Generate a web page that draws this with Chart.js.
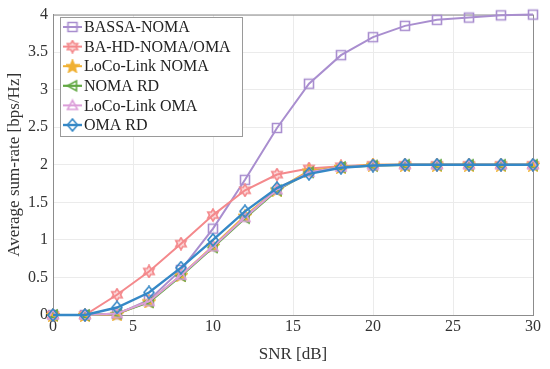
<!DOCTYPE html>
<html>
<head>
<meta charset="utf-8">
<script src="https://cdn.jsdelivr.net/npm/chart.js@4/dist/chart.umd.min.js"></script>
<style>
  body { margin: 0; background: #fff; }
  #wrap { width: 550px; height: 369px; }
</style>
</head>
<body>
<div id="wrap"><canvas id="rateChart" width="550" height="369"></canvas></div>
<script>
  // SNR points and sum-rate curves
  const snr = [0, 2, 4, 6, 8, 10, 12, 14, 16, 18, 20, 22, 24, 26, 28, 30];
  const bassaNoma = [0, 0, 0.01, 0.2, 0.6, 1.15, 1.8, 2.49, 3.08, 3.46, 3.7, 3.85, 3.93, 3.96, 3.99, 4.0];
  const baHdNomaOma = [0, 0, 0.27, 0.58, 0.95, 1.33, 1.66, 1.87, 1.95, 1.98, 2.0, 2.0, 2.0, 2.0, 2.0, 2.0];
  const locoNoma = [0, 0, 0.01, 0.18, 0.53, 0.92, 1.32, 1.67, 1.92, 1.97, 2.0, 2.0, 2.0, 2.0, 2.0, 2.0];
  const nomaRd = [0, 0, 0.02, 0.17, 0.52, 0.9, 1.29, 1.66, 1.9, 1.97, 1.99, 2.0, 2.0, 2.0, 2.0, 2.0];
  const locoOma = [0, 0, 0.02, 0.18, 0.53, 0.91, 1.3, 1.67, 1.9, 1.97, 1.99, 2.0, 2.0, 2.0, 2.0, 2.0];
  const omaRd = [0, 0, 0.1, 0.3, 0.63, 1.0, 1.38, 1.69, 1.88, 1.96, 1.99, 2.0, 2.0, 2.0, 2.0, 2.0];
  const yTicks = [0, 0.5, 1, 1.5, 2, 2.5, 3, 3.5, 4];

  const FONT = "'Liberation Serif', 'DejaVu Serif', serif";

  // draws small marker images so we can use MATLAB-like shapes
  function makeMarker(kind, color) {
    const c = document.createElement('canvas');
    c.width = 14; c.height = 14;
    const g = c.getContext('2d');
    const cx = 7, cy = 7;
    g.strokeStyle = color;
    g.fillStyle = color;
    g.lineWidth = 1.6;
    g.lineJoin = 'miter';
    g.beginPath();
    if (kind === 'square') {
      g.rect(cx - 4.5, cy - 4.5, 9, 9);
      g.stroke();
    } else if (kind === 'hexagram') {
      const r1 = 6, r2 = 3.5;
      for (let i = 0; i < 12; i++) {
        const r = i % 2 === 0 ? r1 : r2;
        const a = -Math.PI / 2 + i * Math.PI / 6;
        const px = cx + r * Math.cos(a), py = cy + r * Math.sin(a);
        i === 0 ? g.moveTo(px, py) : g.lineTo(px, py);
      }
      g.closePath();
      g.globalAlpha = 0.35;
      g.fill();
      g.globalAlpha = 1;
      g.stroke();
    } else if (kind === 'pentagram') {
      const r1 = 6.5, r2 = 2.8;
      for (let i = 0; i < 10; i++) {
        const r = i % 2 === 0 ? r1 : r2;
        const a = -Math.PI / 2 + i * Math.PI / 5;
        const px = cx + r * Math.cos(a), py = cy + 0.5 + r * Math.sin(a);
        i === 0 ? g.moveTo(px, py) : g.lineTo(px, py);
      }
      g.closePath();
      g.fill();
      g.stroke();
    } else if (kind === 'left') {
      g.moveTo(cx - 5, cy);
      g.lineTo(cx + 4, cy - 5);
      g.lineTo(cx + 4, cy + 5);
      g.closePath();
      g.stroke();
    } else if (kind === 'up') {
      g.moveTo(cx, cy - 5);
      g.lineTo(cx + 5, cy + 4);
      g.lineTo(cx - 5, cy + 4);
      g.closePath();
      g.stroke();
    } else if (kind === 'diamond') {
      g.moveTo(cx, cy - 6);
      g.lineTo(cx + 5, cy);
      g.lineTo(cx, cy + 6);
      g.lineTo(cx - 5, cy);
      g.closePath();
      g.stroke();
    }
    return c;
  }

  const series = [
    { label: 'BASSA-NOMA', data: bassaNoma, color: '#A98ECF', marker: 'square', width: 2, order: 6 },
    { label: 'BA-HD-NOMA/OMA', data: baHdNomaOma, color: '#F4898C', marker: 'hexagram', width: 2, order: 5 },
    { label: 'LoCo-Link NOMA', data: locoNoma, color: '#F0B133', marker: 'pentagram', width: 2, order: 4 },
    { label: 'NOMA RD', data: nomaRd, color: '#62A843', marker: 'left', width: 2.2, order: 3 },
    { label: 'LoCo-Link OMA', data: locoOma, color: '#DC9ED9', marker: 'up', width: 2, order: 2 },
    { label: 'OMA RD', data: omaRd, color: '#3588C6', marker: 'diamond', width: 2.4, order: 1 }
  ];
  series.forEach(s => { s.img = makeMarker(s.marker, s.color); });

  // box around plot area + legend in upper-left, like the MATLAB figure
  const boxAndLegend = {
    id: 'boxAndLegend',
    beforeDatasetsDraw(chart) {
      const { ctx, chartArea: a } = chart;
      ctx.save();
      ctx.strokeStyle = '#8c8c8c';
      ctx.lineWidth = 1;
      ctx.strokeRect(a.left + 0.5, a.top + 0.5, a.right - a.left, a.bottom - a.top);
      ctx.restore();
    },
    afterDatasetsDraw(chart) {
      const { ctx } = chart;
      ctx.save();
      const bx = 60, by = 17, bw = 182, bh = 119;
      ctx.fillStyle = '#fff';
      ctx.fillRect(bx, by, bw, bh);
      ctx.strokeStyle = '#9a9a9a';
      ctx.lineWidth = 1;
      ctx.strokeRect(bx + 0.5, by + 0.5, bw, bh);
      ctx.font = '16px ' + FONT;
      ctx.textBaseline = 'middle';
      series.forEach((s, i) => {
        const y = by + 10 + i * 19.6;
        ctx.strokeStyle = s.color;
        ctx.lineWidth = s.width;
        ctx.beginPath();
        ctx.moveTo(63, y);
        ctx.lineTo(82, y);
        ctx.stroke();
        ctx.drawImage(s.img, 72.5 - 7, y - 7);
        ctx.fillStyle = '#222';
        ctx.fillText(s.label, 84, y + 1);
      });
      ctx.restore();
    }
  };

  new Chart(document.getElementById('rateChart'), {
    type: 'line',
    data: {
      datasets: series.map(s => ({
        label: s.label,
        data: snr.map((x, i) => ({ x: x, y: s.data[i] })),
        borderColor: s.color,
        backgroundColor: s.color,
        borderWidth: s.width,
        pointStyle: s.img,
        pointRadius: 5,
        pointHoverRadius: 5,
        tension: 0,
        clip: false,
        order: s.order
      }))
    },
    options: {
      responsive: false,
      animation: false,
      events: [],
      layout: { padding: { top: 12, right: 17, left: 0, bottom: 0 } },
      plugins: {
        legend: { display: false },
        tooltip: { enabled: false }
      },
      scales: {
        x: {
          type: 'linear',
          min: 0,
          max: 30,
          afterFit: sc => { sc.height = 54; },
          ticks: { stepSize: 5, color: '#333', font: { family: FONT, size: 16 }, padding: 2 },
          grid: { color: '#ebebeb', drawTicks: false },
          border: { color: '#8c8c8c' },
          title: { display: true, text: 'SNR [dB]', color: '#333', font: { family: FONT, size: 17 }, padding: { top: 2 } }
        },
        y: {
          type: 'linear',
          min: 0,
          max: 4,
          afterFit: sc => { sc.width = 53; },
          afterBuildTicks: sc => { sc.ticks = yTicks.map(v => ({ value: v })); },
          ticks: {
            color: '#333',
            font: { family: FONT, size: 16 },
            padding: 5,
            callback: v => String(v)
          },
          grid: { color: '#ebebeb', drawTicks: false },
          border: { color: '#8c8c8c' },
          title: { display: true, text: 'Average sum-rate [bps/Hz]', color: '#333', font: { family: FONT, size: 17 }, padding: { bottom: 0 } }
        }
      }
    },
    plugins: [boxAndLegend]
  });
</script>
</body>
</html>
